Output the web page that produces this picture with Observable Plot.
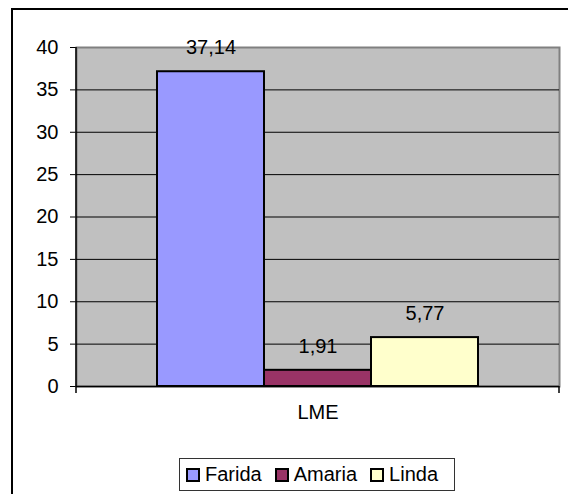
<!DOCTYPE html>
<html>
<head>
<meta charset="utf-8">
<script src="https://cdn.jsdelivr.net/npm/d3@7"></script>
<script src="https://cdn.jsdelivr.net/npm/@observablehq/plot@0.6"></script>
<style>
  html, body { margin: 0; padding: 0; background: #fff; overflow: hidden; }
  #wrap { position: relative; width: 568px; height: 494px; font-family: "Liberation Sans", Arial, sans-serif; }
  #border { position: absolute; left: 11px; top: 8px; width: 700px; height: 700px;
            border-left: 2px solid #000; border-top: 2px solid #000; z-index: 2; pointer-events: none; }
  #legend { position: absolute; left: 179px; top: 458px; width: 274px; height: 31px;
            border: 1px solid #333; display: flex; align-items: center; box-sizing: content-box;
            font-size: 20px; color: #000; }
  .item { display: flex; align-items: center; margin-left: 13px; }
  .item:first-child { margin-left: 6px; }
  .sw { width: 10px; height: 10px; border: 2px solid #000; margin-right: 5px; }
  svg.plot { background: transparent !important; }
</style>
</head>
<body>
<div id="wrap">
  <div id="chart"></div>
  <div id="legend"></div>
  <div id="border"></div>
</div>
<script>
const categories = ["LME"];
const series = ["Farida", "Amaria", "Linda"];
const values = [37.14, 1.91, 5.77];
const colors = ["#9999FF", "#993366", "#FFFFCC"];
const yTicks = [0, 5, 10, 15, 20, 25, 30, 35, 40];
const gridValues = [5, 10, 15, 20, 25, 30, 35];

const rows = series.map((s, i) => ({category: categories[0], series: s, value: values[i]}));
const fmt = v => v.toFixed(2).replace(".", ",");

const edgeMark = (index, scales, values, dims) => {
  const g = d3.create("svg:g").attr("stroke", "#000").attr("stroke-width", 1.5);
  const L = dims.marginLeft, R = dims.width - dims.marginRight;
  const T = dims.marginTop, B = dims.height - dims.marginBottom;
  g.append("line").attr("x1", L).attr("x2", L).attr("y1", T).attr("y2", B + 7);
  g.append("line").attr("x1", R).attr("x2", R).attr("y1", B).attr("y2", B + 7);
  return g.node();
};

const chart = Plot.plot({
  width: 568,
  height: 440,
  marginTop: 47,
  marginBottom: 54,
  marginLeft: 76,
  marginRight: 9,
  style: {fontFamily: "'Liberation Sans', Arial, sans-serif", fontSize: "20px", color: "#000", background: "transparent"},
  facet: {data: rows, x: "category"},
  fx: {axis: "bottom", padding: 0, tickSize: 0, tickPadding: 18, label: null},
  x: {domain: series, paddingInner: 0, paddingOuter: 0.74, axis: null},
  y: {domain: [0, 40], ticks: yTicks, tickSize: 6, tickPadding: 12, label: null, tickFormat: d => String(d)},
  color: {domain: series, range: colors},
  marks: [
    Plot.frame({fill: "#C0C0C0", stroke: "#808080", strokeWidth: 2}),
    Plot.ruleY(gridValues, {stroke: "#000", strokeWidth: 1}),
    Plot.barY(rows, {x: "series", y: "value", fill: "series", stroke: "#000", strokeWidth: 2}),
    Plot.ruleY([0], {stroke: "#000", strokeWidth: 1.5}),
    edgeMark,
    Plot.text(rows, {x: "series", y: "value", text: d => fmt(d.value), dy: -24, fill: "#000", fontSize: 20})
  ]
});
document.getElementById("chart").appendChild(chart);

const legend = document.getElementById("legend");
series.forEach((s, i) => {
  const it = document.createElement("div");
  it.className = "item";
  const sw = document.createElement("div");
  sw.className = "sw";
  sw.style.background = colors[i];
  const t = document.createElement("span");
  t.textContent = s;
  it.appendChild(sw); it.appendChild(t);
  legend.appendChild(it);
});
</script>
</body>
</html>
